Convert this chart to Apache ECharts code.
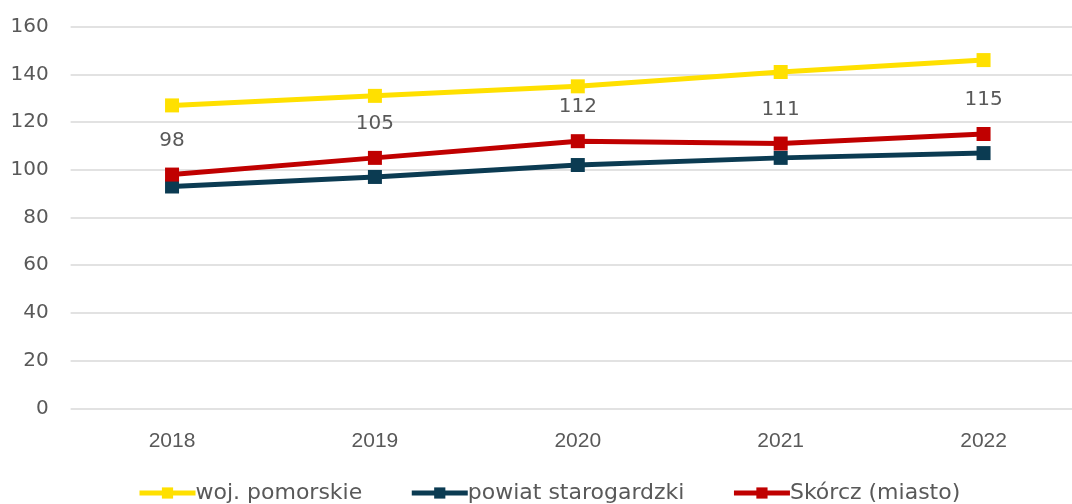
<!DOCTYPE html>
<html>
<head>
<meta charset="utf-8">
<script src="https://cdn.jsdelivr.net/npm/echarts@6/dist/echarts.min.js"></script>
<style>
html,body{margin:0;padding:0;background:#fff;}
#chart{width:1072px;height:504px;}
</style>
</head>
<body>
<div id="chart"></div>
<script>
const years = ['2018', '2019', '2020', '2021', '2022'];
const wojPomorskie = [127, 131, 135, 141, 146];
const powiatStarogardzki = [93, 97, 102, 105, 107];
const skorczMiasto = [98, 105, 112, 111, 115];
const yTicks = { min: 0, max: 160, interval: 20 };

const font = 'DejaVu Sans';
const txt = '#595959';

const chart = echarts.init(document.getElementById('chart'));
function series(name, data, color, label) {
  return {
    name: name,
    type: 'line',
    data: data,
    symbol: 'rect',
    symbolSize: 14,
    lineStyle: { width: 5, color: color },
    itemStyle: { color: color },
    label: label ? {
      show: true, position: 'top', distance: 17,
      fontFamily: font, fontSize: 20, color: txt
    } : { show: false },
    emphasis: { disabled: true },
    animation: false
  };
}
chart.setOption({
  animation: false,
  grid: { left: 70.6, right: -13, top: 26.7, bottom: 95.7, containLabel: false, outerBoundsMode: 'none' },
  legend: {
    bottom: 0,
    left: 137,
    padding: 0,
    itemWidth: 56,
    itemHeight: 14,
    itemGap: 47,
    lineStyle: { width: 5 },
    textStyle: { fontFamily: font, fontSize: 22, color: txt, padding: [0, 0, 0, -5] },
    data: ['woj. pomorskie', 'powiat starogardzki', 'Skórcz (miasto)']
  },
  xAxis: {
    type: 'category',
    data: years,
    boundaryGap: true,
    axisLine: { show: false },
    axisTick: { show: false },
    axisLabel: { fontFamily: 'Liberation Sans', fontSize: 21, color: txt, margin: 22 }
  },
  yAxis: {
    type: 'value',
    min: yTicks.min, max: yTicks.max, interval: yTicks.interval,
    axisLine: { show: false },
    axisTick: { show: false },
    splitLine: { lineStyle: { color: '#d9d9d9', width: 1.5 } },
    axisLabel: { fontFamily: font, fontSize: 20, color: txt, margin: 22 }
  },
  series: [
    series('woj. pomorskie', wojPomorskie, '#FFE000', false),
    series('powiat starogardzki', powiatStarogardzki, '#0B3B52', false),
    series('Skórcz (miasto)', skorczMiasto, '#C00000', true)
  ]
});
</script>
</body>
</html>
